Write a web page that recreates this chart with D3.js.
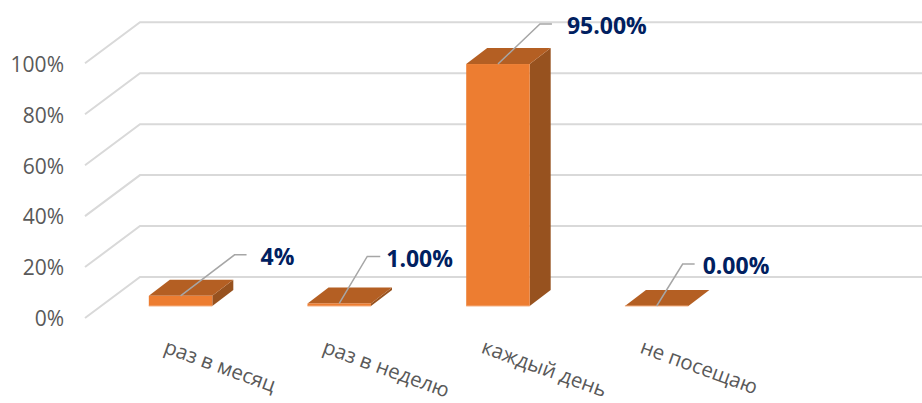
<!DOCTYPE html>
<html><head><meta charset="utf-8">
<script src="https://cdn.jsdelivr.net/npm/d3@7/dist/d3.min.js"></script>
<style>html,body{margin:0;background:#fff}svg{display:block}</style></head>
<body><svg id="c" width="922" height="403"></svg>
<script>
const categories = ["раз в месяц","раз в неделю","каждый день","не посещаю"];
const values = [4,1,95,0];
const valueLabels = ["4%","1.00%","95.00%","0.00%"];
const ticks = [0,20,40,60,80,100];
const leaderRise = [41,47,40,42];
const leaderRun = [54,28,42,26];
const leaderTail = [12,13,12,12];
const labelGap = [14,6,15,8];

const svg = d3.select("#c");
const font = "'Open Sans', sans-serif";
const depthX = 21, depthY = 16;
const yFront = d3.scaleLinear().domain([0,100]).range([306,51.3]);
const x = d3.scaleBand().domain(categories).range([101.2,736]).paddingInner(0.6).paddingOuter(0.3);

// gridlines
const grid = svg.append("g");
ticks.forEach(t=>{
  const yb = yFront(t) - 29, yf = yFront(t) + 12;
  grid.append("polyline")
    .attr("points",`85,${yf} 140,${yb} 922,${yb}`)
    .attr("fill","none").attr("stroke","#d9d9d9").attr("stroke-width",2);
});

// y axis labels
const axis = d3.axisLeft(d3.scaleLinear().domain([0,100]).range([318,64.5]))
  .tickValues(ticks).tickFormat(d=>d+"%").tickSize(0);
const ag = svg.append("g").attr("transform","translate(70,0)").call(axis);
ag.select(".domain").remove();
ag.selectAll("text").attr("x",-6).attr("dy","0.35em").attr("fill","#595959")
  .style("font-family",font).style("font-size","21px");

// bars
const bars = svg.append("g");
categories.forEach((c,i)=>{
  const x0=x(c), x1=x0+x.bandwidth(), yt=yFront(values[i]), yb=yFront(0);
  bars.append("polygon").attr("fill","#97521f")
    .attr("points",`${x1},${yt} ${x1+depthX},${yt-depthY} ${x1+depthX},${yb-depthY} ${x1},${yb}`);
  bars.append("polygon").attr("fill","#b45f23")
    .attr("points",`${x0},${yt} ${x0+depthX},${yt-depthY} ${x1+depthX},${yt-depthY} ${x1},${yt}`);
  bars.append("rect").attr("x",x0).attr("y",yt).attr("width",x.bandwidth()).attr("height",yb-yt).attr("fill","#ed7d31");
  bars.append("line").attr("x1",x0).attr("x2",x1).attr("y1",yb).attr("y2",yb).attr("stroke","#f4b183").attr("stroke-width",1);
});

// leaders and labels
const lab = svg.append("g");
categories.forEach((c,i)=>{
  const sx=x(c)+x.bandwidth()/2, sy=yFront(values[i]);
  const ex=sx+leaderRun[i], ey=sy-leaderRise[i];
  lab.append("polyline").attr("points",`${sx},${sy} ${ex},${ey} ${ex+leaderTail[i]},${ey}`)
    .attr("fill","none").attr("stroke","#a6a6a6").attr("stroke-width",1.5);
  lab.append("text").attr("x",ex+leaderTail[i]+labelGap[i]).attr("y",ey+2).attr("dy","0.35em")
    .attr("fill","#002060").attr("font-weight",700)
    .style("font-family",font).style("font-size","23px").text(valueLabels[i]);
});

// category labels
const cat = svg.append("g");
categories.forEach((c,i)=>{
  const cx=x(c)+14, cy=352.5;
  cat.append("text").attr("transform",`translate(${cx},${cy}) rotate(20)`)
    .attr("text-anchor","start").attr("fill","#595959")
    .style("font-family",font).style("font-size","20.5px").text(c);
});
</script></body></html>
